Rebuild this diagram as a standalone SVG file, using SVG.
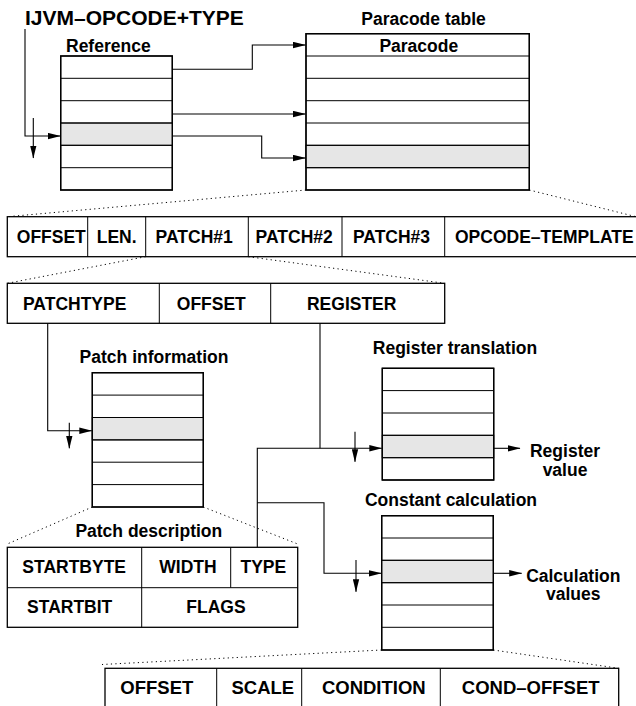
<svg xmlns="http://www.w3.org/2000/svg" width="636" height="706" viewBox="0 0 636 706">
<defs>
<style>
text{font-family:"Liberation Sans",Arial,sans-serif;font-weight:bold;fill:#000}
.t{font-size:17.5px}
.c{text-anchor:middle}
.title{font-size:21px}
.big{font-size:18.5px}
.box{fill:#fff;stroke:#000;stroke-width:1.3}
.row{stroke:#000;stroke-width:1;fill:none}
.hl{fill:#e6e6e6;stroke:#000;stroke-width:1}
.ln{fill:none;stroke:#000;stroke-width:1.1}
.dot{fill:none;stroke:#000;stroke-width:1;stroke-dasharray:1.2 3.3}
</style>
<marker id="ah" markerUnits="userSpaceOnUse" markerWidth="13" markerHeight="7" refX="12.5" refY="3.5" orient="auto">
<path d="M0,0.3 L13,3.5 L0,6.7 z" fill="#000"/>
</marker>
</defs>
<rect width="636" height="706" fill="#fff"/>

<text class="title" x="25" y="25">IJVM–OPCODE+TYPE</text>

<g id="reference">
<text class="t" x="66" y="51.5">Reference</text>
<rect class="box" x="60.7" y="56" width="111.6" height="134"/>
<rect class="hl" x="60.7" y="123" width="111.6" height="22.3"/>
<path class="row" d="M60.7,78.3H172.3M60.7,100.7H172.3M60.7,123H172.3M60.7,145.3H172.3M60.7,167.7H172.3"/>
<rect x="60.7" y="56" width="111.6" height="134" fill="none" stroke="#000" stroke-width="1.3"/>
</g>

<g id="paracode">
<text class="t c" x="423.5" y="25">Paracode table</text>
<rect class="box" x="306" y="33.7" width="223.3" height="156.3"/>
<rect class="hl" x="306" y="145.3" width="223.3" height="22.4"/>
<path class="row" d="M306,56H529.3M306,78.3H529.3M306,100.7H529.3M306,123H529.3M306,145.3H529.3M306,167.7H529.3"/>
<rect x="306" y="33.7" width="223.3" height="156.3" fill="none" stroke="#000" stroke-width="1.3"/>
<text class="t c" x="418.8" y="51.5">Paracode</text>
</g>

<g id="fields">
<rect class="box" x="7.3" y="216.7" width="633" height="40"/>
<path class="row" d="M87.7,216.7V256.7M145.7,216.7V256.7M248.3,216.7V256.7M342,216.7V256.7M444.7,216.7V256.7"/>
<text class="t c" x="51.3" y="243.3">OFFSET</text>
<text class="t c" x="116.7" y="243.3">LEN.</text>
<text class="t c" x="194.2" y="243.3">PATCH#1</text>
<text class="t c" x="294.2" y="243.3">PATCH#2</text>
<text class="t c" x="391.5" y="243.3">PATCH#3</text>
<text class="t c" x="544.3" y="243.3">OPCODE–TEMPLATE</text>
</g>

<g id="patch">
<rect class="box" x="7.3" y="283.3" width="437.4" height="40"/>
<path class="row" d="M159.3,283.3V323.3M270.7,283.3V323.3"/>
<text class="t c" x="74.7" y="310">PATCHTYPE</text>
<text class="t c" x="211.3" y="310">OFFSET</text>
<text class="t c" x="351.7" y="310">REGISTER</text>
</g>

<g id="patchinfo">
<text class="t c" x="154" y="363.3">Patch information</text>
<rect class="box" x="92.3" y="372.7" width="111" height="134.3"/>
<rect class="hl" x="92.3" y="417.5" width="111" height="22.4"/>
<path class="row" d="M92.3,395.1H203.3M92.3,417.5H203.3M92.3,439.9H203.3M92.3,462.2H203.3M92.3,484.6H203.3"/>
<rect x="92.3" y="372.7" width="111" height="134.3" fill="none" stroke="#000" stroke-width="1.3"/>
</g>

<g id="regtrans">
<text class="t c" x="455" y="354.3">Register translation</text>
<rect class="box" x="382.3" y="368.3" width="111.4" height="111.7"/>
<rect class="hl" x="382.3" y="435.3" width="111.4" height="22.4"/>
<path class="row" d="M382.3,390.6H493.7M382.3,413H493.7M382.3,435.3H493.7M382.3,457.7H493.7"/>
<rect x="382.3" y="368.3" width="111.4" height="111.7" fill="none" stroke="#000" stroke-width="1.3"/>
<text class="t c" x="565" y="456.8">Register</text>
<text class="t c" x="565" y="475.5">value</text>
</g>

<g id="patchdesc">
<text class="t c" x="148.8" y="537.3">Patch description</text>
<rect class="box" x="7.3" y="547.3" width="290.4" height="80"/>
<path class="row" d="M7.3,587.7H297.7M141.7,547.3V627.3M230.7,547.3V587.7"/>
<text class="t c" x="74.2" y="573.3">STARTBYTE</text>
<text class="t c" x="188" y="573.3">WIDTH</text>
<text class="t c" x="263.3" y="573.3">TYPE</text>
<text class="t c" x="69.7" y="613.3">STARTBIT</text>
<text class="t c" x="216" y="613.3">FLAGS</text>
</g>

<g id="constcalc">
<text class="t c" x="451" y="506">Constant calculation</text>
<rect class="box" x="381.7" y="515.7" width="111.6" height="134.3"/>
<rect class="hl" x="381.7" y="560.3" width="111.6" height="22.4"/>
<path class="row" d="M381.7,538H493.3M381.7,560.3H493.3M381.7,582.7H493.3M381.7,605H493.3M381.7,627.3H493.3"/>
<rect x="381.7" y="515.7" width="111.6" height="134.3" fill="none" stroke="#000" stroke-width="1.3"/>
<text class="t c" x="573.3" y="581.5">Calculation</text>
<text class="t c" x="573.3" y="600.2">values</text>
</g>

<g id="constfields">
<rect class="box" x="105" y="668.3" width="513.7" height="42"/>
<path class="row" d="M216.7,668.3V710M301.7,668.3V710M440.3,668.3V710"/>
<text class="big c" x="156.8" y="693.5">OFFSET</text>
<text class="big c" x="262.8" y="693.5">SCALE</text>
<text class="big c" x="373.8" y="693.5">CONDITION</text>
<text class="big c" x="530.7" y="693.5">COND–OFFSET</text>
</g>

<g id="connectors">
<path class="ln" d="M25,29V136H60.2" marker-end="url(#ah)"/>
<path class="ln" d="M33.3,118V158" marker-end="url(#ah)"/>
<path class="ln" d="M172.3,69.3H252.3V45H305.5" marker-end="url(#ah)"/>
<path class="ln" d="M172.3,114H305.5" marker-end="url(#ah)"/>
<path class="ln" d="M172.3,136H261.7V158H305.5" marker-end="url(#ah)"/>
<path class="ln" d="M47.7,323.3V430.7H91.8" marker-end="url(#ah)"/>
<path class="ln" d="M69.3,422.7V448.3" marker-end="url(#ah)"/>
<path class="ln" d="M320,323.3V448.3" />
<path class="ln" d="M257.3,547.3V448.3H381.8" marker-end="url(#ah)"/>
<path class="ln" d="M355,431.7V461.7" marker-end="url(#ah)"/>
<path class="ln" d="M493.7,448.3H520" marker-end="url(#ah)"/>
<path class="ln" d="M257.3,502.7H324V573.3H381.2" marker-end="url(#ah)"/>
<path class="ln" d="M356,560V591.7" marker-end="url(#ah)"/>
<path class="ln" d="M493.3,573.3H521.7" marker-end="url(#ah)"/>
<path class="dot" d="M306,190L7.3,216.7M529.3,190L636,216.7"/>
<path class="dot" d="M145.7,256.7L7.3,283.3M248.3,256.7L444.7,283.3"/>
<path class="dot" d="M92.3,507L7.3,544M203.3,507L297.7,544"/>
<path class="dot" d="M381.7,650L102,664.5M493.3,650L618.7,668.3"/>
</g>
</svg>
